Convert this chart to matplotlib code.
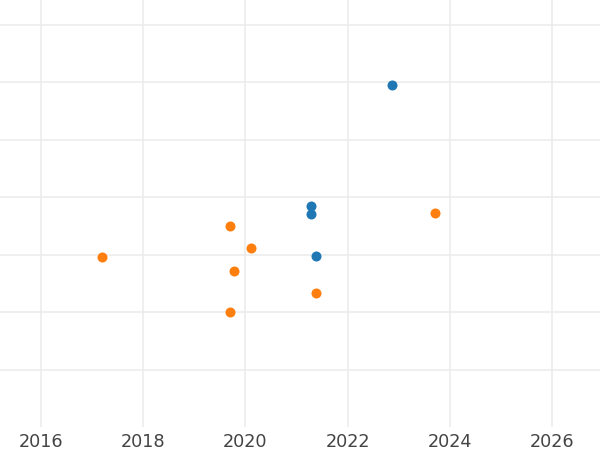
import matplotlib.pyplot as plt

# Data (x in decimal years, y in grid units)
blue_x = [2022.87, 2021.28, 2021.28, 2021.38]
blue_y = [5.95, 3.84, 3.70, 2.98]
orange_x = [2023.71, 2019.71, 2020.12, 2017.20, 2019.77, 2021.38, 2019.71]
orange_y = [3.72, 3.50, 3.12, 2.95, 2.72, 2.34, 2.00]

x_ticks = [2016, 2018, 2020, 2022, 2024, 2026]
y_ticks = [1, 2, 3, 4, 5, 6, 7]

fig = plt.figure(figsize=(6, 4.5), dpi=100)
ax = fig.add_axes([0, 0.051, 1, 0.949])

ax.scatter(blue_x, blue_y, s=52, color='#1f77b4', zorder=3, linewidths=0)
ax.scatter(orange_x, orange_y, s=52, color='#ff7f0e', zorder=3, linewidths=0)

ax.set_xlim(2015.2045, 2026.933)
ax.set_ylim(0, 7.43)
ax.set_xticks(x_ticks)
ax.set_xticklabels([str(t) for t in x_ticks])
ax.set_yticks(y_ticks)
ax.set_yticklabels([])

ax.grid(True, color='#ebebeb', linewidth=1.1)
ax.set_axisbelow(True)
for s in ax.spines.values():
    s.set_visible(False)
ax.tick_params(axis='both', length=0)
ax.tick_params(axis='x', labelsize=12.7, labelcolor='#444444', pad=4.5)

fig.savefig('out.png', dpi=100)
